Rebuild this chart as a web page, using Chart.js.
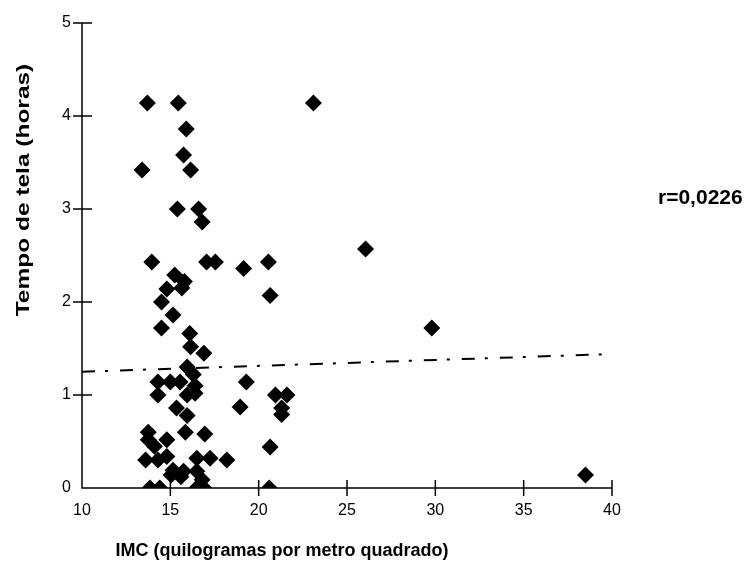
<!DOCTYPE html>
<html lang="pt">
<head>
    <meta charset="UTF-8">
    <title>IMC x Tempo de tela</title>
    <script src="https://cdn.jsdelivr.net/npm/chart.js"></script>
    <style>
        body {
            margin: 0;
            background-color: #fff;
        }
        .container {
            position: relative;
            width: 752px;
            height: 568px;
        }
    </style>
</head>
<body>
    <div class="container">
        <canvas id="scatterChart"></canvas>
    </div>

    <script>
        // IMC (kg/m2) and screen time (hours)
        const imc = [
            13.7, 15.45, 23.1, 15.9, 15.75, 16.15, 13.4, 15.4, 16.6, 16.8,
            13.95, 17.05, 17.55, 20.55, 19.15, 26.05, 15.25, 15.8, 15.65, 14.8,
            14.5, 20.65, 15.15, 14.5, 29.8, 16.1, 16.15, 16.9, 15.95, 16.3,
            14.3, 15.0, 15.55, 16.4, 19.3, 14.3, 15.95, 16.4, 20.95, 21.6,
            21.3, 21.3, 18.95, 15.35, 15.95, 13.75, 15.85, 16.95, 14.8, 13.75,
            20.65, 13.6, 14.3, 14.8, 16.5, 17.25, 18.2, 15.15, 15.75, 16.5,
            16.8, 15.05, 13.85, 14.4, 16.5, 16.9, 20.6, 38.5, 15.6, 14.1
        ];
        const tempoTela = [
            4.14, 4.14, 4.14, 3.86, 3.58, 3.42, 3.42, 3.0, 3.0, 2.86,
            2.43, 2.43, 2.43, 2.43, 2.36, 2.57, 2.29, 2.22, 2.15, 2.14,
            2.0, 2.07, 1.86, 1.72, 1.72, 1.66, 1.52, 1.45, 1.30, 1.22,
            1.14, 1.14, 1.14, 1.10, 1.14, 1.0, 1.0, 1.02, 1.0, 1.0,
            0.86, 0.79, 0.87, 0.86, 0.78, 0.60, 0.60, 0.58, 0.52, 0.52,
            0.44, 0.30, 0.30, 0.34, 0.32, 0.32, 0.30, 0.19, 0.18, 0.18,
            0.09, 0.14, 0.0, 0.0, 0.0, 0.0, 0.0, 0.14, 0.12, 0.45
        ];

        // regression line ends
        const trendX = [10, 40];
        const trendY = [1.25, 1.44];

        const xTicks = [10, 15, 20, 25, 30, 35, 40];
        const yTicks = [0, 1, 2, 3, 4, 5];

        const xTitle = 'IMC (quilogramas por metro quadrado)';
        const yTitle = 'Tempo de tela (horas)';
        const rLabel = 'r=0,0226';

        const points = imc.map((x, i) => ({ x: x, y: tempoTela[i] }));
        const trend = trendX.map((x, i) => ({ x: x, y: trendY[i] }));

        // axes with ticks crossing the line, titles and the r label
        const axesPlugin = {
            id: 'axesPlugin',
            afterDraw(chart) {
                const ctx = chart.ctx;
                const xs = chart.scales.x;
                const ys = chart.scales.y;
                const area = chart.chartArea;
                ctx.save();
                ctx.strokeStyle = '#000';
                ctx.lineWidth = 1.5;
                ctx.beginPath();
                ctx.moveTo(area.left, area.top);
                ctx.lineTo(area.left, area.bottom);
                ctx.lineTo(area.right, area.bottom);
                yTicks.forEach(v => {
                    const py = ys.getPixelForValue(v);
                    if (v === 0) return;
                    ctx.moveTo(area.left - 9, py);
                    ctx.lineTo(area.left + 10, py);
                });
                xTicks.forEach(v => {
                    const px = xs.getPixelForValue(v);
                    if (v === 10) return;
                    ctx.moveTo(px, area.bottom - 8);
                    ctx.lineTo(px, area.bottom + 8);
                });
                ctx.stroke();

                ctx.fillStyle = '#000';
                ctx.font = 'bold 18px "Liberation Sans", Arial, sans-serif';
                ctx.textAlign = 'center';
                ctx.textBaseline = 'middle';
                ctx.fillText(xTitle, 282, 551);

                // the y title is stretched along its length in the original
                ctx.save();
                ctx.translate(24, 190);
                ctx.rotate(-Math.PI / 2);
                ctx.scale(1.36, 1.05);
                ctx.fillText(yTitle, 0, 0);
                ctx.restore();

                ctx.font = 'bold 21px "Liberation Sans", Arial, sans-serif';
                ctx.textAlign = 'left';
                ctx.fillText(rLabel, 658, 198);
                ctx.restore();
            }
        };

        const ctx = document.getElementById('scatterChart').getContext('2d');
        const chart = new Chart(ctx, {
            type: 'scatter',
            data: {
                datasets: [
                    {
                        label: 'IMC x tempo de tela',
                        data: points,
                        pointStyle: 'rectRot',
                        pointRadius: 8.5,
                        pointHoverRadius: 8.5,
                        backgroundColor: '#000',
                        borderWidth: 0
                    },
                    {
                        label: 'Tendência',
                        type: 'line',
                        data: trend,
                        showLine: true,
                        borderColor: '#000',
                        borderWidth: 2,
                        borderDash: [13, 10, 3, 12],
                        pointRadius: 0,
                        fill: false
                    }
                ]
            },
            options: {
                responsive: true,
                maintainAspectRatio: false,
                animation: false,
                layout: {
                    padding: { left: 0, top: 23, right: 140, bottom: 0 }
                },
                plugins: {
                    legend: { display: false },
                    tooltip: { enabled: false }
                },
                scales: {
                    x: {
                        type: 'linear',
                        min: 10,
                        max: 40,
                        grid: { display: false, drawTicks: false },
                        border: { display: false },
                        ticks: {
                            stepSize: 5,
                            padding: 13,
                            color: '#000',
                            font: { family: '"Liberation Sans", Arial, sans-serif', size: 16 }
                        },
                        afterFit: s => { s.height = 80; }
                    },
                    y: {
                        min: 0,
                        max: 5,
                        grid: { display: false, drawTicks: false },
                        border: { display: false },
                        ticks: {
                            stepSize: 1,
                            padding: 11,
                            color: '#000',
                            font: { family: '"Liberation Sans", Arial, sans-serif', size: 16 }
                        },
                        afterFit: s => { s.width = 82; }
                    }
                }
            },
            plugins: [axesPlugin]
        });
    </script>
</body>
</html>
